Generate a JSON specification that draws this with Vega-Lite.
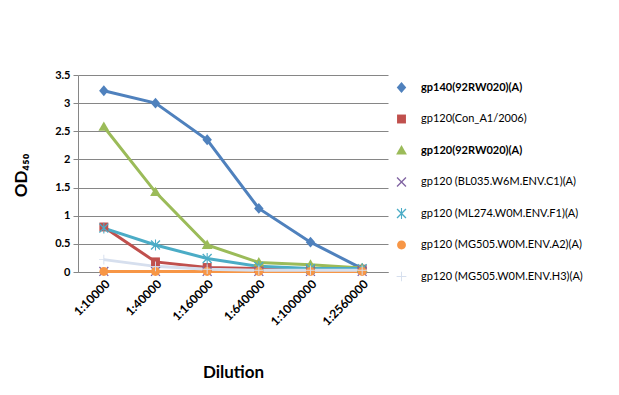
{
  "$schema": "https://vega.github.io/schema/vega-lite/v6.json",
  "autosize": {"type": "none"},
  "width": 310,
  "height": 197,
  "padding": {"left": 78, "top": 75, "right": 231, "bottom": 123},
  "background": "white",
  "config": {
    "view": {"stroke": null},
    "font": "Lato",
    "axis": {"labelFont": "Lato", "titleFont": "Lato", "labelColor": "black", "titleColor": "black"}
  },
  "data": {
    "values": [
      {"series": "gp140(92RW020)(A)", "dilution": "1:10000", "od": 3.22},
      {"series": "gp140(92RW020)(A)", "dilution": "1:40000", "od": 3.0},
      {"series": "gp140(92RW020)(A)", "dilution": "1:160000", "od": 2.35},
      {"series": "gp140(92RW020)(A)", "dilution": "1:640000", "od": 1.13},
      {"series": "gp140(92RW020)(A)", "dilution": "1:1000000", "od": 0.53},
      {"series": "gp140(92RW020)(A)", "dilution": "1:2560000", "od": 0.06},
      {"series": "gp120(Con_A1/2006)", "dilution": "1:10000", "od": 0.8},
      {"series": "gp120(Con_A1/2006)", "dilution": "1:40000", "od": 0.18},
      {"series": "gp120(Con_A1/2006)", "dilution": "1:160000", "od": 0.08},
      {"series": "gp120(Con_A1/2006)", "dilution": "1:640000", "od": 0.06},
      {"series": "gp120(Con_A1/2006)", "dilution": "1:1000000", "od": 0.05},
      {"series": "gp120(Con_A1/2006)", "dilution": "1:2560000", "od": 0.05},
      {"series": "gp120(92RW020)(A)", "dilution": "1:10000", "od": 2.58},
      {"series": "gp120(92RW020)(A)", "dilution": "1:40000", "od": 1.42},
      {"series": "gp120(92RW020)(A)", "dilution": "1:160000", "od": 0.48},
      {"series": "gp120(92RW020)(A)", "dilution": "1:640000", "od": 0.17},
      {"series": "gp120(92RW020)(A)", "dilution": "1:1000000", "od": 0.13},
      {"series": "gp120(92RW020)(A)", "dilution": "1:2560000", "od": 0.07},
      {"series": "gp120 (BL035.W6M.ENV.C1)(A)", "dilution": "1:10000", "od": 0.01},
      {"series": "gp120 (BL035.W6M.ENV.C1)(A)", "dilution": "1:40000", "od": 0.01},
      {"series": "gp120 (BL035.W6M.ENV.C1)(A)", "dilution": "1:160000", "od": 0.01},
      {"series": "gp120 (BL035.W6M.ENV.C1)(A)", "dilution": "1:640000", "od": 0.01},
      {"series": "gp120 (BL035.W6M.ENV.C1)(A)", "dilution": "1:1000000", "od": 0.01},
      {"series": "gp120 (BL035.W6M.ENV.C1)(A)", "dilution": "1:2560000", "od": 0.01},
      {"series": "gp120 (ML274.W0M.ENV.F1)(A)", "dilution": "1:10000", "od": 0.78},
      {"series": "gp120 (ML274.W0M.ENV.F1)(A)", "dilution": "1:40000", "od": 0.48},
      {"series": "gp120 (ML274.W0M.ENV.F1)(A)", "dilution": "1:160000", "od": 0.24},
      {"series": "gp120 (ML274.W0M.ENV.F1)(A)", "dilution": "1:640000", "od": 0.1},
      {"series": "gp120 (ML274.W0M.ENV.F1)(A)", "dilution": "1:1000000", "od": 0.06},
      {"series": "gp120 (ML274.W0M.ENV.F1)(A)", "dilution": "1:2560000", "od": 0.06},
      {"series": "gp120 (MG505.W0M.ENV.A2)(A)", "dilution": "1:10000", "od": 0.01},
      {"series": "gp120 (MG505.W0M.ENV.A2)(A)", "dilution": "1:40000", "od": 0.01},
      {"series": "gp120 (MG505.W0M.ENV.A2)(A)", "dilution": "1:160000", "od": 0.01},
      {"series": "gp120 (MG505.W0M.ENV.A2)(A)", "dilution": "1:640000", "od": 0.01},
      {"series": "gp120 (MG505.W0M.ENV.A2)(A)", "dilution": "1:1000000", "od": 0.01},
      {"series": "gp120 (MG505.W0M.ENV.A2)(A)", "dilution": "1:2560000", "od": 0.01},
      {"series": "gp120 (MG505.W0M.ENV.H3)(A)", "dilution": "1:10000", "od": 0.22},
      {"series": "gp120 (MG505.W0M.ENV.H3)(A)", "dilution": "1:40000", "od": 0.1},
      {"series": "gp120 (MG505.W0M.ENV.H3)(A)", "dilution": "1:160000", "od": 0.05},
      {"series": "gp120 (MG505.W0M.ENV.H3)(A)", "dilution": "1:640000", "od": 0.03},
      {"series": "gp120 (MG505.W0M.ENV.H3)(A)", "dilution": "1:1000000", "od": 0.03},
      {"series": "gp120 (MG505.W0M.ENV.H3)(A)", "dilution": "1:2560000", "od": 0.03}
    ]
  },
  "encoding": {
    "x": {
      "field": "dilution", "type": "ordinal", "sort": null,
      "scale": {"type": "point", "padding": 0.5},
      "axis": {
        "title": "Dilution", "titleFontSize": 17, "titleFontWeight": "bold", "titlePadding": 37,
        "labelAngle": -45, "labelFontSize": 12, "labelFontWeight": "bold",
        "ticks": false, "grid": false, "domainColor": "#868686", "labelPadding": 6
      }
    },
    "y": {
      "field": "od", "type": "quantitative",
      "scale": {"domain": [0, 3.5], "nice": false},
      "axis": {
        "title": "OD₄₅₀", "titleFontSize": 17, "titleFontWeight": "bold",
        "titleAngle": -90, "titleX": -57, "titleY": 100, "titleAlign": "center", "titleBaseline": "middle",
        "values": [0, 0.5, 1, 1.5, 2, 2.5, 3, 3.5], "format": "~g",
        "labelFontSize": 11, "labelFontWeight": "bold", "labelPadding": 3,
        "tickColor": "#868686", "tickSize": 5, "domainColor": "#868686",
        "gridColor": "#868686", "gridOpacity": 1
      }
    },
    "color": {
      "field": "series", "type": "nominal", "sort": null,
      "scale": {
        "domain": ["gp140(92RW020)(A)", "gp120(Con_A1/2006)", "gp120(92RW020)(A)", "gp120 (BL035.W6M.ENV.C1)(A)", "gp120 (ML274.W0M.ENV.F1)(A)", "gp120 (MG505.W0M.ENV.A2)(A)", "gp120 (MG505.W0M.ENV.H3)(A)"],
        "range": ["#4F81BD", "#C0504D", "#9BBB59", "#8064A2", "#4BACC6", "#F79646", "#D6DFEE"]
      },
      "legend": {
        "title": null, "orient": "none", "legendX": 310, "legendY": -1,
        "symbolSize": 729, "symbolStrokeWidth": 0, "rowPadding": 12.5, "labelOffset": 6,
        "labelFont": "Lato", "labelFontSize": 11, "labelColor": "black", "labelLimit": 250,
        "labelFontWeight": {"expr": "datum.label == 'gp140(92RW020)(A)' || datum.label == 'gp120(92RW020)(A)' ? 'bold' : 'normal'"}
      }
    }
  },
  "layer": [
    {
      "mark": {"type": "line", "strokeWidth": 3}
    },
    {
      "mark": {"type": "point", "filled": true, "opacity": 1, "strokeWidth": 0, "size": 729},
      "encoding": {
        "shape": {
          "field": "series", "type": "nominal", "sort": null,
          "scale": {
            "domain": ["gp140(92RW020)(A)", "gp120(Con_A1/2006)", "gp120(92RW020)(A)", "gp120 (BL035.W6M.ENV.C1)(A)", "gp120 (ML274.W0M.ENV.F1)(A)", "gp120 (MG505.W0M.ENV.A2)(A)", "gp120 (MG505.W0M.ENV.H3)(A)"],
            "range": [
              "M0,-0.4L0.35,0L0,0.4L-0.35,0Z",
              "M-0.33,-0.33H0.33V0.33H-0.33Z",
              "M0,-0.4L0.4,0.3H-0.4Z",
              "M-0.295,-0.365L0.365,0.295L0.295,0.365L-0.365,-0.295ZM-0.365,0.295L0.295,-0.365L0.365,-0.295L-0.295,0.365Z",
              "M-0.295,-0.365L0.365,0.295L0.295,0.365L-0.365,-0.295ZM-0.365,0.295L0.295,-0.365L0.365,-0.295L-0.295,0.365ZM-0.04,-0.4H0.04V0.4H-0.04Z",
              "M-0.33,0A0.33,0.33 0 1,1 0.33,0A0.33,0.33 0 1,1 -0.33,0Z",
              "M-0.36,-0.035H0.36V0.035H-0.36ZM-0.035,-0.36H0.035V0.36H-0.035Z"
            ]
          },
          "legend": null
        }
      }
    }
  ]
}
